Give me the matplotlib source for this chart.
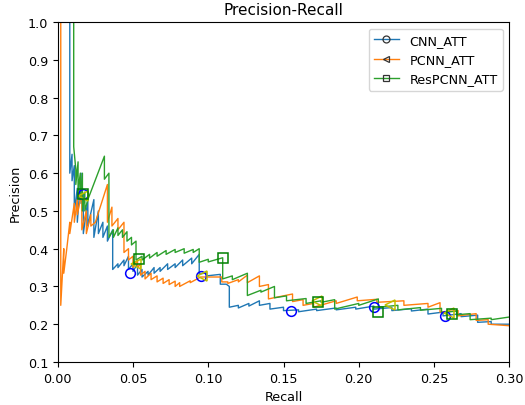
import matplotlib
matplotlib.use("Agg")
import matplotlib.pyplot as plt
from matplotlib.lines import Line2D

plt.rcParams["font.size"] = 9.2
plt.rcParams["axes.titlesize"] = 11

# ---- data ----
cnn_recall = [0.008, 0.008, 0.0095, 0.0095, 0.011, 0.011, 0.013, 0.013, 0.0155, 0.0155,
              0.017, 0.017, 0.020, 0.020, 0.024, 0.024, 0.027, 0.027, 0.030, 0.030,
              0.033, 0.033, 0.0365, 0.0365, 0.040, 0.040, 0.044, 0.044, 0.047, 0.047,
              0.050, 0.050, 0.053, 0.053, 0.056, 0.056, 0.060, 0.060, 0.064, 0.064,
              0.068, 0.068, 0.073, 0.073, 0.078, 0.078, 0.083, 0.083, 0.089, 0.089,
              0.094, 0.094, 0.099, 0.099, 0.108, 0.108, 0.112, 0.114, 0.114, 0.120,
              0.120, 0.127, 0.127, 0.134, 0.134, 0.141, 0.141, 0.150, 0.150, 0.160,
              0.160, 0.172, 0.172, 0.185, 0.185, 0.198, 0.198, 0.210, 0.210, 0.222,
              0.222, 0.235, 0.235, 0.246, 0.246, 0.256, 0.256, 0.268, 0.268, 0.279,
              0.279, 0.288, 0.288, 0.300]
cnn_prec = [1.000, 0.600, 0.650, 0.580, 0.620, 0.500, 0.560, 0.470, 0.600, 0.520,
            0.545, 0.440, 0.530, 0.460, 0.530, 0.430, 0.500, 0.440, 0.470, 0.430,
            0.460, 0.420, 0.450, 0.345, 0.360, 0.350, 0.370, 0.355, 0.380, 0.345,
            0.360, 0.340, 0.360, 0.330, 0.345, 0.325, 0.340, 0.330, 0.350, 0.335,
            0.350, 0.340, 0.360, 0.345, 0.360, 0.350, 0.370, 0.355, 0.375, 0.360,
            0.385, 0.333, 0.336, 0.328, 0.332, 0.306, 0.306, 0.300, 0.245, 0.250,
            0.243, 0.255, 0.248, 0.262, 0.250, 0.255, 0.240, 0.245, 0.236, 0.238,
            0.233, 0.240, 0.236, 0.243, 0.238, 0.245, 0.240, 0.248, 0.240, 0.244,
            0.236, 0.241, 0.235, 0.240, 0.227, 0.232, 0.222, 0.228, 0.220, 0.224,
            0.205, 0.207, 0.200, 0.200]
cnn_mark_recall = [0.017, 0.048, 0.095, 0.155, 0.210, 0.257]
cnn_mark_prec = [0.545, 0.336, 0.328, 0.236, 0.245, 0.223]

pcnn_recall = [0.002, 0.002, 0.004, 0.004, 0.006, 0.008, 0.008, 0.011, 0.011, 0.013,
               0.013, 0.016, 0.016, 0.019, 0.019, 0.022, 0.022, 0.025, 0.033, 0.033,
               0.036, 0.036, 0.040, 0.040, 0.044, 0.044, 0.047, 0.047, 0.050, 0.050,
               0.053, 0.053, 0.055, 0.055, 0.058, 0.058, 0.062, 0.062, 0.066, 0.066,
               0.070, 0.070, 0.074, 0.074, 0.078, 0.078, 0.081, 0.081, 0.088, 0.088,
               0.095, 0.109, 0.109, 0.113, 0.113, 0.120, 0.120, 0.126, 0.126, 0.134,
               0.134, 0.140, 0.140, 0.156, 0.156, 0.163, 0.163, 0.170, 0.170, 0.185,
               0.185, 0.199, 0.199, 0.212, 0.212, 0.230, 0.230, 0.246, 0.246, 0.254,
               0.254, 0.266, 0.266, 0.278, 0.278, 0.286, 0.286, 0.300]
pcnn_prec = [1.000, 0.250, 0.400, 0.335, 0.400, 0.470, 0.440, 0.520, 0.470, 0.530,
             0.490, 0.550, 0.450, 0.500, 0.440, 0.490, 0.460, 0.470, 0.570, 0.470,
             0.510, 0.460, 0.480, 0.450, 0.470, 0.390, 0.400, 0.370, 0.380, 0.350,
             0.370, 0.350, 0.360, 0.330, 0.340, 0.320, 0.335, 0.318, 0.328, 0.312,
             0.322, 0.308, 0.318, 0.305, 0.314, 0.300, 0.310, 0.300, 0.315, 0.310,
             0.325, 0.325, 0.312, 0.312, 0.308, 0.318, 0.312, 0.330, 0.310, 0.328,
             0.300, 0.305, 0.267, 0.280, 0.260, 0.265, 0.250, 0.255, 0.245, 0.262,
             0.255, 0.272, 0.262, 0.266, 0.258, 0.262, 0.250, 0.255, 0.245, 0.257,
             0.232, 0.236, 0.222, 0.228, 0.210, 0.212, 0.200, 0.196]
pcnn_mark_recall = [0.017, 0.052, 0.096, 0.172, 0.221, 0.260]
pcnn_mark_prec = [0.540, 0.360, 0.328, 0.262, 0.252, 0.229]

res_recall = [0.0106, 0.0106, 0.0120, 0.0120, 0.0135, 0.0135, 0.0150, 0.0150, 0.0164, 0.0164,
              0.0180, 0.0180, 0.0200, 0.0310, 0.0310, 0.0340, 0.0340, 0.0370, 0.0370, 0.0400,
              0.0400, 0.0430, 0.0430, 0.0460, 0.0460, 0.0490, 0.0490, 0.0520, 0.0520, 0.0560,
              0.0560, 0.0610, 0.0610, 0.0660, 0.0660, 0.0720, 0.0720, 0.0780, 0.0780, 0.0840,
              0.0840, 0.0900, 0.0900, 0.0940, 0.0940, 0.1000, 0.1000, 0.1096, 0.1096, 0.1160,
              0.1160, 0.1260, 0.1260, 0.1350, 0.1350, 0.1440, 0.1440, 0.1520, 0.1520, 0.1650,
              0.1650, 0.1750, 0.1750, 0.1840, 0.1840, 0.2000, 0.2000, 0.2130, 0.2130, 0.2260,
              0.2260, 0.2410, 0.2410, 0.2550, 0.2550, 0.2650, 0.2650, 0.2740, 0.2740, 0.2880,
              0.2880, 0.3000]
res_prec = [1.000, 0.670, 0.610, 0.570, 0.630, 0.555, 0.600, 0.530, 0.600, 0.500,
            0.550, 0.500, 0.530, 0.645, 0.584, 0.600, 0.430, 0.450, 0.430, 0.455,
            0.435, 0.450, 0.430, 0.445, 0.420, 0.430, 0.410, 0.420, 0.370, 0.380,
            0.370, 0.385, 0.375, 0.390, 0.380, 0.395, 0.385, 0.398, 0.390, 0.400,
            0.388, 0.398, 0.390, 0.400, 0.364, 0.372, 0.365, 0.376, 0.320, 0.328,
            0.318, 0.335, 0.276, 0.290, 0.285, 0.300, 0.270, 0.275, 0.262, 0.268,
            0.255, 0.262, 0.258, 0.265, 0.240, 0.255, 0.250, 0.267, 0.245, 0.250,
            0.238, 0.244, 0.237, 0.242, 0.230, 0.235, 0.225, 0.228, 0.212, 0.216,
            0.212, 0.219]
res_mark_recall = [0.017, 0.054, 0.110, 0.173, 0.213, 0.262]
res_mark_prec = [0.545, 0.373, 0.375, 0.258, 0.232, 0.228]

names = ["CNN_ATT", "PCNN_ATT", "ResPCNN_ATT"]
line_colors = ["#1f77b4", "#ff7f0e", "#2ca02c"]
mark_colors = ["b", "y", "g"]
markers = ["o", "<", "s"]

fig = plt.figure(figsize=(5.25, 4.06), dpi=100)
ax = fig.add_axes([0.110, 0.106, 0.860, 0.837])

series = [(cnn_recall, cnn_prec, cnn_mark_recall, cnn_mark_prec),
          (pcnn_recall, pcnn_prec, pcnn_mark_recall, pcnn_mark_prec),
          (res_recall, res_prec, res_mark_recall, res_mark_prec)]

for (r, p, mr, mp), lc in zip(series, line_colors):
    ax.plot(r, p, color=lc, lw=1.0)
for (r, p, mr, mp), mc, mk in zip(series, mark_colors, markers):
    ax.plot(mr, mp, linestyle="none", marker=mk, markersize=7,
            markerfacecolor="none", markeredgecolor=mc, markeredgewidth=1.1)

handles = [Line2D([], [], color=lc, lw=1.0, marker=mk, markersize=5,
                  markerfacecolor="none", markeredgecolor="#333333",
                  markeredgewidth=0.9)
           for lc, mk in zip(line_colors, markers)]
ax.legend(handles, names, loc="upper right")

ax.set_xlim(0.0, 0.3)
ax.set_ylim(0.1, 1.0)
ax.set_xlabel("Recall")
ax.set_ylabel("Precision")
ax.set_title("Precision-Recall")

fig.savefig("out.png", dpi=100)
